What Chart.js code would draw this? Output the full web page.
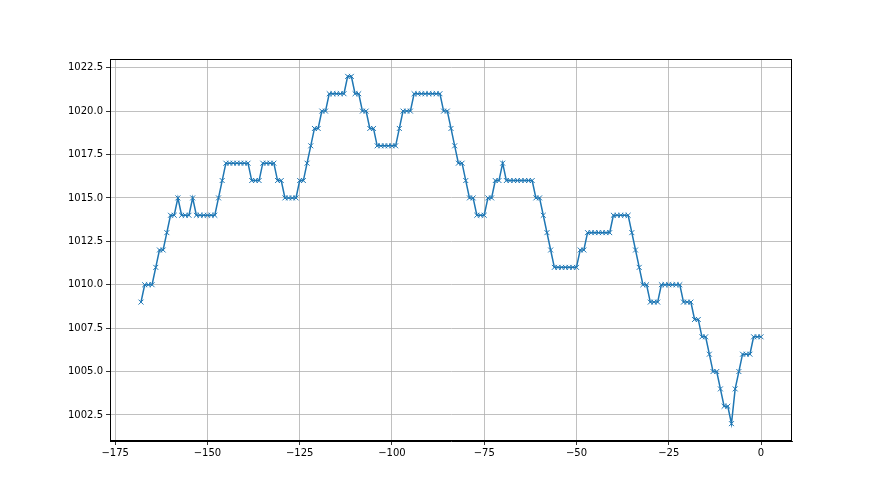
<!DOCTYPE html>
<html>
<head>
<meta charset="utf-8">
<script src="https://cdn.jsdelivr.net/npm/chart.js@4"></script>
<style>
  html, body { margin: 0; padding: 0; background: #fff; }
  #wrap { width: 880px; height: 495px; }
</style>
</head>
<body>
<div id="wrap"><canvas id="chart"></canvas></div>
<script>
// hours relative to now, and pressure read at each hour (hPa)
const hours = [
  -168, -167, -166, -165, -164, -163, -162, -161, -160, -159, -158, -157, -156, -155, -154, -153, -152, -151, -150, -149,
  -148, -147, -146, -145, -144, -143, -142, -141, -140, -139, -138, -137, -136, -135, -134, -133, -132, -131, -130, -129,
  -128, -127, -126, -125, -124, -123, -122, -121, -120, -119, -118, -117, -116, -115, -114, -113, -112, -111, -110, -109,
  -108, -107, -106, -105, -104, -103, -102, -101, -100, -99, -98, -97, -96, -95, -94, -93, -92, -91, -90, -89,
  -88, -87, -86, -85, -84, -83, -82, -81, -80, -79, -78, -77, -76, -75, -74, -73, -72, -71, -70, -69,
  -68, -67, -66, -65, -64, -63, -62, -61, -60, -59, -58, -57, -56, -55, -54, -53, -52, -51, -50, -49,
  -48, -47, -46, -45, -44, -43, -42, -41, -40, -39, -38, -37, -36, -35, -34, -33, -32, -31, -30, -29,
  -28, -27, -26, -25, -24, -23, -22, -21, -20, -19, -18, -17, -16, -15, -14, -13, -12, -11, -10, -9,
  -8, -7, -6, -5, -4, -3, -2, -1, 0
];

const pressure = [
  1009, 1010, 1010, 1010, 1011, 1012, 1012, 1013, 1014, 1014, 1015, 1014, 1014, 1014, 1015, 1014, 1014, 1014, 1014, 1014,
  1014, 1015, 1016, 1017, 1017, 1017, 1017, 1017, 1017, 1017, 1016, 1016, 1016, 1017, 1017, 1017, 1017, 1016, 1016, 1015,
  1015, 1015, 1015, 1016, 1016, 1017, 1018, 1019, 1019, 1020, 1020, 1021, 1021, 1021, 1021, 1021, 1022, 1022, 1021, 1021,
  1020, 1020, 1019, 1019, 1018, 1018, 1018, 1018, 1018, 1018, 1019, 1020, 1020, 1020, 1021, 1021, 1021, 1021, 1021, 1021,
  1021, 1021, 1020, 1020, 1019, 1018, 1017, 1017, 1016, 1015, 1015, 1014, 1014, 1014, 1015, 1015, 1016, 1016, 1017, 1016,
  1016, 1016, 1016, 1016, 1016, 1016, 1016, 1015, 1015, 1014, 1013, 1012, 1011, 1011, 1011, 1011, 1011, 1011, 1011, 1012,
  1012, 1013, 1013, 1013, 1013, 1013, 1013, 1013, 1014, 1014, 1014, 1014, 1014, 1013, 1012, 1011, 1010, 1010, 1009, 1009,
  1009, 1010, 1010, 1010, 1010, 1010, 1010, 1009, 1009, 1009, 1008, 1008, 1007, 1007, 1006, 1005, 1005, 1004, 1003, 1003,
  1002, 1004, 1005, 1006, 1006, 1006, 1007, 1007, 1007
];

const xTicks = [-175, -150, -125, -100, -75, -50, -25, 0];
const yTicks = [1002.5, 1005.0, 1007.5, 1010.0, 1012.5, 1015.0, 1017.5, 1020.0, 1022.5];

const blue = '#1f77b4';
const gridColor = '#b0b0b0';

// box round the plot area, like matplotlib's spines
const frame = {
    id: 'frame',
    afterDraw(chart) {
        const a = chart.chartArea;
        const ctx = chart.ctx;
        ctx.save();
        ctx.strokeStyle = '#000';
        ctx.lineWidth = 1;
        ctx.strokeRect(a.left + 0.5, a.top + 0.5, a.right - a.left - 1, a.bottom - a.top - 1);
        ctx.restore();
    }
};

const ctx = document.getElementById('chart').getContext('2d');
new Chart(ctx, {
    type: 'line',
    data: {
        datasets: [{
            data: hours.map((h, i) => ({ x: h, y: pressure[i] })),
            borderColor: blue,
            borderWidth: 1.5,
            tension: 0,
            pointStyle: 'crossRot',
            pointRadius: 3.5,
            pointBorderWidth: 1,
            pointBorderColor: blue,
            pointBackgroundColor: blue,
            fill: false
        }]
    },
    options: {
        responsive: true,
        maintainAspectRatio: false,
        animation: false,
        layout: { padding: { top: 59, right: 88, bottom: 0, left: 0 } },
        plugins: {
            legend: { display: false },
            tooltip: { enabled: false }
        },
        scales: {
            x: {
                type: 'linear',
                min: -176.4,
                max: 8.4,
                afterFit: s => { s.height = 54; },
                afterBuildTicks: s => { s.ticks = xTicks.map(v => ({ value: v })); },
                grid: { color: gridColor, lineWidth: 0.8, tickColor: '#000', tickLength: 4 },
                border: { display: true, color: '#000', width: 1 },
                ticks: {
                    color: '#000',
                    padding: 2,
                    maxRotation: 0,
                    font: { family: 'DejaVu Sans', size: 10 },
                    callback: v => String(v).replace('-', '\u2212')
                }
            },
            y: {
                type: 'linear',
                min: 1001,
                max: 1023,
                afterFit: s => { s.width = 110; },
                afterBuildTicks: s => { s.ticks = yTicks.map(v => ({ value: v })); },
                grid: { color: gridColor, lineWidth: 0.8, tickColor: '#000', tickLength: 4 },
                border: { display: true, color: '#000', width: 1 },
                ticks: {
                    color: '#000',
                    padding: 3,
                    font: { family: 'DejaVu Sans', size: 10 },
                    callback: v => v.toFixed(1)
                }
            }
        }
    },
    plugins: [frame]
});
</script>
</body>
</html>
